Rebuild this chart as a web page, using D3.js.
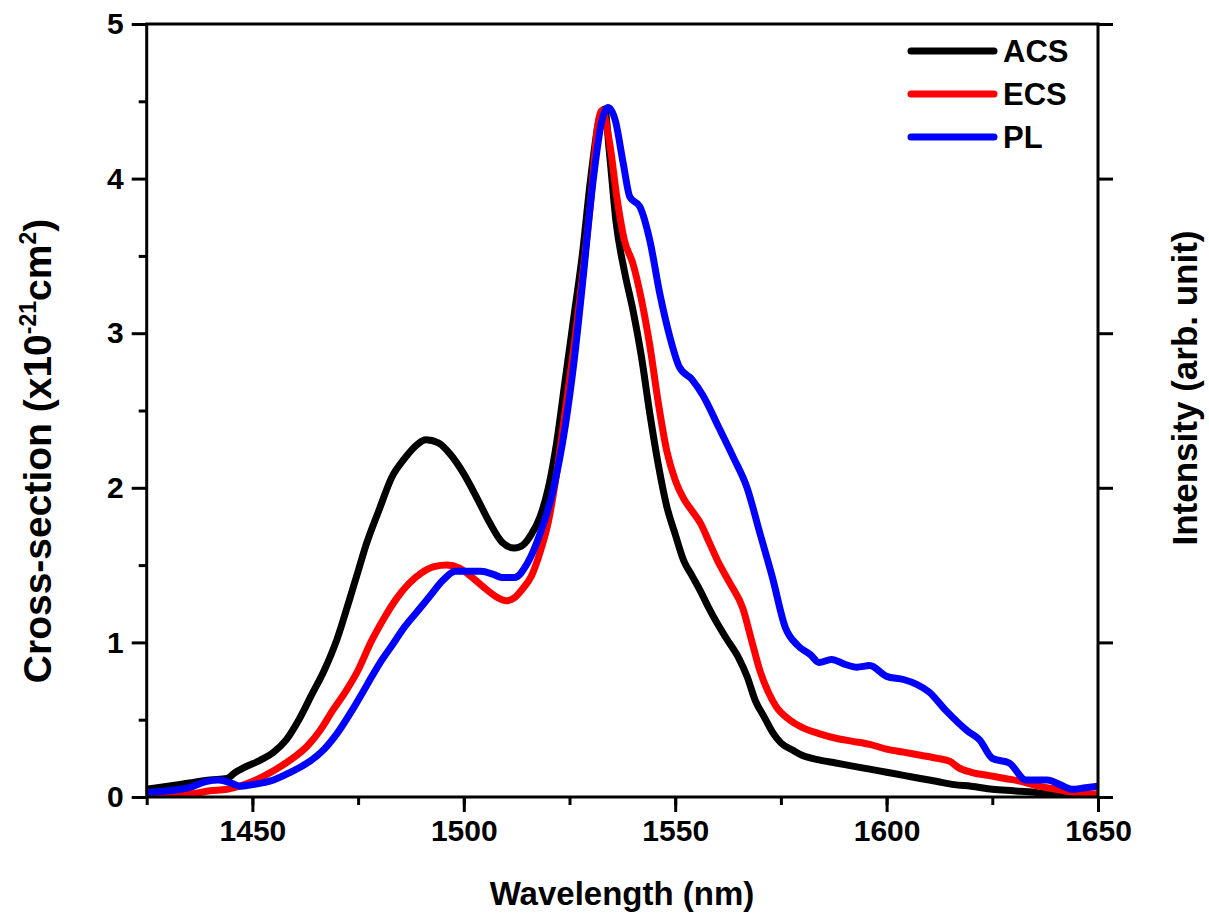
<!DOCTYPE html>
<html>
<head>
<meta charset="utf-8">
<script src="https://cdn.jsdelivr.net/npm/d3@7"></script>
<style>
  body { margin: 0; background: #ffffff; }
  svg { display: block; font-family: "Liberation Sans", Arial, sans-serif; font-weight: bold; }
</style>
</head>
<body>
<svg id="chart" width="1209" height="913"></svg>
<script>
// wavelength (nm) / cross-section (x10^-21 cm^2)
var acsNm = [1425, 1430, 1435, 1440, 1444, 1446, 1448, 1452, 1455, 1458, 1461, 1464, 1467, 1470, 1473, 1475, 1477, 1480, 1483, 1486, 1489, 1491, 1494, 1497, 1500, 1503, 1506, 1509, 1512, 1514, 1516, 1518, 1520, 1522, 1524, 1526, 1528, 1530, 1532, 1533.3, 1534.5, 1536, 1538, 1540, 1542, 1544, 1546, 1548, 1550, 1552, 1554, 1556, 1558, 1560, 1562, 1565, 1567, 1569, 1571, 1573, 1575, 1578, 1580, 1584, 1588, 1592, 1596, 1600, 1604, 1608, 1612, 1616, 1620, 1625, 1630, 1635, 1640, 1645, 1650]
var acsVal = [0.05, 0.07, 0.09, 0.11, 0.12, 0.16, 0.19, 0.24, 0.29, 0.37, 0.50, 0.66, 0.82, 1.02, 1.28, 1.46, 1.64, 1.86, 2.07, 2.19, 2.28, 2.31, 2.29, 2.21, 2.09, 1.94, 1.78, 1.65, 1.61, 1.63, 1.70, 1.81, 2.00, 2.30, 2.70, 3.10, 3.50, 4.00, 4.38, 4.45, 4.15, 3.72, 3.40, 3.15, 2.85, 2.48, 2.15, 1.88, 1.70, 1.53, 1.43, 1.33, 1.22, 1.12, 1.03, 0.90, 0.78, 0.62, 0.52, 0.42, 0.35, 0.30, 0.27, 0.24, 0.22, 0.20, 0.18, 0.16, 0.14, 0.12, 0.10, 0.08, 0.07, 0.05, 0.04, 0.03, 0.015, 0.01, 0.01]

var ecsNm = [1425, 1430, 1435, 1440, 1444, 1447, 1450, 1455, 1459, 1463, 1466, 1469, 1472, 1475, 1478, 1481, 1484, 1487, 1490, 1493, 1496, 1499, 1502, 1505, 1508, 1510, 1512, 1514, 1516, 1518, 1520, 1522, 1524, 1526, 1528, 1530, 1531.7, 1532.7, 1534.6, 1536.2, 1538, 1540, 1542, 1544, 1546, 1548, 1550, 1552, 1554, 1556, 1558, 1560, 1563, 1566, 1568, 1570, 1572, 1574, 1577, 1580, 1584, 1588, 1592, 1596, 1600, 1604, 1608, 1612, 1615, 1617, 1620, 1624, 1628, 1632, 1636, 1640, 1644, 1648, 1650]
var ecsVal = [0.01, 0.02, 0.02, 0.04, 0.05, 0.07, 0.10, 0.17, 0.24, 0.33, 0.43, 0.56, 0.68, 0.82, 1.00, 1.15, 1.28, 1.38, 1.45, 1.49, 1.50, 1.48, 1.42, 1.35, 1.29, 1.27, 1.29, 1.35, 1.43, 1.58, 1.78, 2.10, 2.50, 2.90, 3.35, 3.85, 4.35, 4.44, 4.21, 3.88, 3.60, 3.45, 3.22, 2.92, 2.55, 2.24, 2.05, 1.93, 1.85, 1.77, 1.65, 1.53, 1.38, 1.22, 1.02, 0.82, 0.68, 0.58, 0.50, 0.45, 0.41, 0.38, 0.36, 0.34, 0.31, 0.29, 0.27, 0.25, 0.23, 0.19, 0.16, 0.14, 0.12, 0.10, 0.07, 0.05, 0.03, 0.02, 0.02]

var plNm = [1425, 1430, 1435, 1439, 1442, 1445, 1447, 1450, 1455, 1459, 1463, 1467, 1470, 1474, 1477, 1480, 1483, 1486, 1489, 1492, 1495, 1498, 1501, 1504, 1507, 1509, 1512, 1515, 1518, 1521, 1524, 1526, 1528, 1530.6, 1532.7, 1534.1, 1535.8, 1537.7, 1539.3, 1541.6, 1544, 1546.4, 1548.7, 1551, 1554, 1556.5, 1560.5, 1563.7, 1567, 1570, 1573, 1576, 1579, 1582, 1584, 1587, 1590, 1593, 1596, 1600, 1604, 1607, 1610, 1614, 1619, 1622, 1625, 1629, 1633, 1638, 1641, 1644, 1647, 1650]
var plVal = [0.03, 0.04, 0.06, 0.10, 0.11, 0.09, 0.07, 0.08, 0.11, 0.16, 0.22, 0.31, 0.41, 0.58, 0.72, 0.86, 0.98, 1.10, 1.20, 1.30, 1.40, 1.46, 1.46, 1.46, 1.44, 1.42, 1.42, 1.51, 1.70, 1.97, 2.40, 2.80, 3.30, 3.99, 4.38, 4.46, 4.38, 4.10, 3.88, 3.82, 3.60, 3.25, 2.98, 2.78, 2.70, 2.60, 2.38, 2.20, 2.00, 1.71, 1.42, 1.10, 0.98, 0.92, 0.87, 0.89, 0.86, 0.84, 0.85, 0.78, 0.76, 0.73, 0.68, 0.56, 0.43, 0.37, 0.25, 0.22, 0.11, 0.11, 0.08, 0.05, 0.06, 0.07]

var seriesNames = ["ACS", "ECS", "PL"]
var seriesColors = ["#000000", "#ff0000", "#0000ff"]
var xTicks = [1450, 1500, 1550, 1600, 1650]
var yTicks = [0, 1, 2, 3, 4, 5]

var svg = d3.select("#chart")
// plot frame in page pixels ("top" is reserved on window, so prefix these)
var plotLeft = 146.7, plotRight = 1098, plotTop = 24, plotBottom = 797

var xScale = d3.scaleLinear().domain([1425, 1650]).range([plotLeft, plotRight])
var yScale = d3.scaleLinear().domain([0, 5]).range([plotBottom, plotTop])

function zip(nm, val) {
  return nm.map(function(d, i) { return [d, val[i]] })
}
var series = [zip(acsNm, acsVal), zip(ecsNm, ecsVal), zip(plNm, plVal)]

// curves, clipped to the frame
svg.append("clipPath").attr("id", "plotClip")
  .append("rect")
  .attr("x", plotLeft).attr("y", plotTop)
  .attr("width", plotRight - plotLeft).attr("height", plotBottom - plotTop)

var line = d3.line()
  .x(function(d) { return xScale(d[0]) })
  .y(function(d) { return yScale(d[1]) })
  .curve(d3.curveMonotoneX)

svg.append("g").attr("clip-path", "url(#plotClip)")
  .selectAll(".curve").data(series)
  .enter().append("path")
  .attr("class", "curve")
  .attr("d", line)
  .attr("fill", "none")
  .attr("stroke", function(d, i) { return seriesColors[i] })
  .attr("stroke-width", 7)
  .attr("stroke-linejoin", "round")
  .attr("stroke-linecap", "round")

// frame
svg.append("rect")
  .attr("x", plotLeft).attr("y", plotTop)
  .attr("width", plotRight - plotLeft).attr("height", plotBottom - plotTop)
  .attr("fill", "none")
  .attr("stroke", "#000")
  .attr("stroke-width", 3)

function styleAxis(g) {
  g.select(".domain").remove()
  g.selectAll(".tick line").attr("stroke", "#000").attr("stroke-width", 3)
  g.selectAll(".tick text").attr("fill", "#000").style("font-size", "30px").style("font-weight", "bold")
}

// bottom axis: majors + minors
svg.append("g")
  .attr("transform", "translate(0," + plotBottom + ")")
  .call(d3.axisBottom(xScale).tickValues(d3.range(1425, 1651, 25)).tickSize(8).tickFormat(""))
  .call(styleAxis)
svg.append("g")
  .attr("transform", "translate(0," + plotBottom + ")")
  .call(d3.axisBottom(xScale).tickValues(xTicks).tickSize(15).tickPadding(8).tickFormat(d3.format("d")))
  .call(styleAxis)

// left axis
svg.append("g")
  .attr("transform", "translate(" + plotLeft + ",0)")
  .call(d3.axisLeft(yScale).tickValues(d3.range(0.5, 5, 1)).tickSize(8).tickFormat(""))
  .call(styleAxis)
svg.append("g")
  .attr("transform", "translate(" + plotLeft + ",0)")
  .call(d3.axisLeft(yScale).tickValues(yTicks).tickSize(15).tickPadding(8).tickFormat(d3.format("d")))
  .call(styleAxis)

// right axis, ticks only
svg.append("g")
  .attr("transform", "translate(" + plotRight + ",0)")
  .call(d3.axisRight(yScale).tickValues(yTicks).tickSize(15).tickFormat(""))
  .call(styleAxis)

// axis titles
svg.append("text")
  .attr("x", 622).attr("y", 905)
  .attr("text-anchor", "middle")
  .style("font-size", "33px")
  .text("Wavelength (nm)")

var yTitle = svg.append("text")
  .attr("transform", "translate(51,451) rotate(-90)")
  .attr("text-anchor", "middle")
  .style("font-size", "39px")
yTitle.append("tspan").text("Cross-section (x10")
yTitle.append("tspan").attr("dy", -15).style("font-size", "23px").text("-21")
yTitle.append("tspan").attr("dy", 15).text("cm")
yTitle.append("tspan").attr("dy", -15).style("font-size", "23px").text("2")
yTitle.append("tspan").attr("dy", 15).text(")")

svg.append("text")
  .attr("transform", "translate(1197,388) rotate(-90)")
  .attr("text-anchor", "middle")
  .style("font-size", "35px")
  .text("Intensity (arb. unit)")

// legend
var legend = svg.append("g").selectAll(".legend").data(seriesNames)
  .enter().append("g")
  .attr("class", "legend")
  .attr("transform", function(d, i) { return "translate(0," + (51 + i * 43) + ")" })
legend.append("line")
  .attr("x1", 911).attr("x2", 994)
  .attr("stroke", function(d, i) { return seriesColors[i] })
  .attr("stroke-width", 7)
  .attr("stroke-linecap", "round")
legend.append("text")
  .attr("x", 1003).attr("y", 11)
  .style("font-size", "31px")
  .text(function(d) { return d })
</script>
</body>
</html>
